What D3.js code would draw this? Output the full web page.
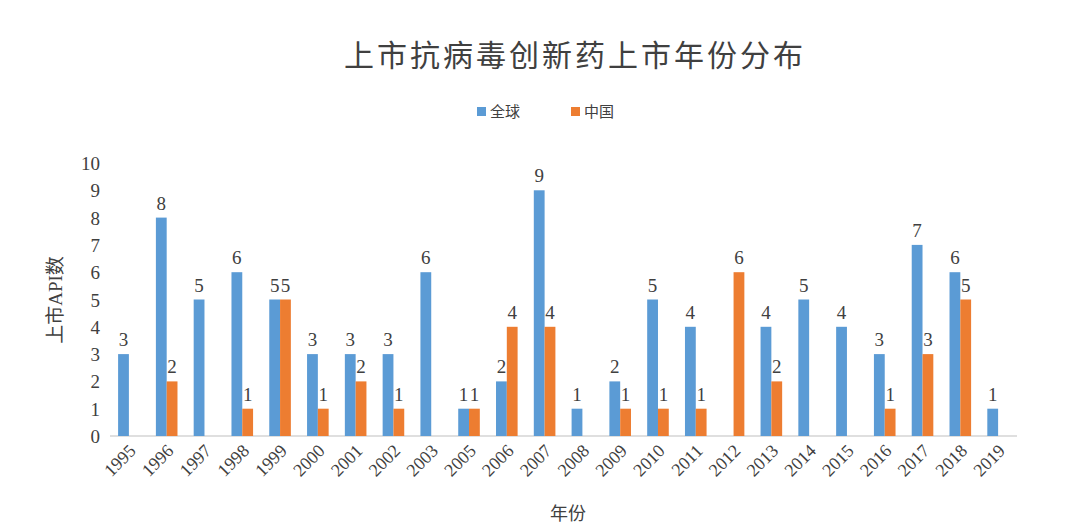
<!DOCTYPE html>
<html lang="zh">
<head>
<meta charset="utf-8">
<script src="https://d3js.org/d3.v7.min.js"></script>
<style>
  body { margin: 0; background: #fff; }
  text { font-family: "Liberation Serif", "Noto Sans CJK SC", serif; fill: #404040; }
</style>
</head>
<body>
<svg id="chart" width="1080" height="528"></svg>
<script>
var years = ["1995","1996","1997","1998","1999","2000","2001","2002","2003","2005","2006","2007","2008","2009","2010","2011","2012","2013","2014","2015","2016","2017","2018","2019"];
var globalVals = [3,8,5,6,5,3,3,3,6,1,2,9,1,2,5,4,0,4,5,4,3,7,6,1];
var chinaVals  = [0,2,0,1,5,1,2,1,0,1,4,4,0,1,1,1,6,2,0,0,1,3,5,0];
var seriesNames = ["全球", "中国"];
var colors = ["#5b9bd5", "#ed7d31"];

var svg = d3.select("#chart");
var x = d3.scaleBand().domain(years).range([110, 1017]);
var y = d3.scaleLinear().domain([0, 10]).range([436, 163]);
var inner = d3.scaleBand().domain([0, 1]).range([0, x.bandwidth()]).paddingInner(0).paddingOuter(0.75);

svg.append("text").attr("x", 575).attr("y", 66).attr("text-anchor", "middle")
  .style("font-size", "30px").style("letter-spacing", "3px").text("上市抗病毒创新药上市年份分布");

// legend
var lg = svg.append("g");
seriesNames.forEach(function(n, i) {
  var lx = 477 + i * 94;
  lg.append("rect").attr("x", lx).attr("y", 107).attr("width", 9).attr("height", 9).attr("fill", colors[i]);
  lg.append("text").attr("x", lx + 13).attr("y", 117).style("font-size", "15px").text(n);
});

// y axis labels
y.ticks(10).forEach(function(t) {
  svg.append("text").attr("x", 100).attr("y", y(t) + 7).attr("text-anchor", "end")
    .style("font-size", "19px").text(t);
});
svg.append("text").attr("transform", "translate(62,300) rotate(-90)").attr("text-anchor", "middle")
  .style("font-size", "19px").text("上市API数");

svg.append("line").attr("x1", 110).attr("x2", 1017).attr("y1", 436).attr("y2", 436)
  .attr("stroke", "#bfbfbf");

[globalVals, chinaVals].forEach(function(vals, si) {
  var g = svg.append("g");
  years.forEach(function(yr, i) {
    var v = vals[i];
    if (!v) return;
    var bx = x(yr) + inner(si);
    g.append("rect").attr("x", bx).attr("y", y(v)).attr("width", inner.bandwidth())
      .attr("height", y(0) - y(v)).attr("fill", colors[si]);
    g.append("text").attr("x", bx + inner.bandwidth() / 2).attr("y", y(v) - 8)
      .attr("text-anchor", "middle").style("font-size", "19px").text(v);
  });
});

years.forEach(function(yr) {
  svg.append("text")
    .attr("transform", "translate(" + (x(yr) + x.bandwidth() / 2 + 8) + ",452) rotate(-45)")
    .attr("text-anchor", "end").style("font-size", "18px").text(yr);
});

svg.append("text").attr("x", 568).attr("y", 520).attr("text-anchor", "middle")
  .style("font-size", "18px").text("年份");
</script>
</body>
</html>
